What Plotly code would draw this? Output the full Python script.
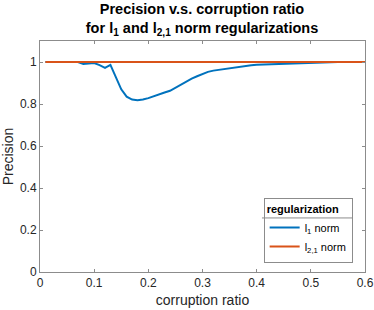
import plotly.graph_objects as go

ratio = [round(0.01 * i, 2) for i in range(1, 61)]
l1_precision = [
    1.0, 1.0, 1.0, 1.0, 1.0, 1.0, 1.0, 0.99, 0.993, 0.995,
    0.985, 0.972, 0.986, 0.93, 0.87, 0.835, 0.821, 0.818, 0.821, 0.828,
    0.838, 0.848, 0.855, 0.863, 0.878, 0.893, 0.908, 0.921, 0.932, 0.942,
    0.953, 0.959, 0.963, 0.968, 0.972, 0.976, 0.98, 0.983, 0.985, 0.987,
    0.988, 0.99, 0.991, 0.992, 0.993, 0.994, 0.995, 0.996, 0.997, 0.998,
    0.999, 0.999, 1.0, 1.0, 1.0, 1.0, 1.0, 1.0, 1.0, 1.0,
]
l21_precision = [
    1.0, 1.0, 1.0, 1.0, 1.0, 1.0, 1.0, 1.0, 1.0, 1.0,
    1.0, 1.0, 0.998, 0.997, 0.997, 0.998, 0.999, 1.0, 1.0, 1.0,
    1.0, 1.0, 1.0, 1.0, 1.0, 1.0, 1.0, 1.0, 1.0, 1.0,
    1.0, 1.0, 1.0, 1.0, 1.0, 1.0, 1.0, 1.0, 1.0, 1.0,
    1.0, 1.0, 1.0, 1.0, 1.0, 1.0, 1.0, 1.0, 1.0, 1.0,
    1.0, 1.0, 1.0, 1.0, 1.0, 1.0, 1.0, 1.0, 1.0, 1.0,
]
x_ticks = [0, 0.1, 0.2, 0.3, 0.4, 0.5, 0.6]
x_tick_labels = ["0", "0.1", "0.2", "0.3", "0.4", "0.5", "0.6"]
y_ticks = [0, 0.2, 0.4, 0.6, 0.8, 1]
y_tick_labels = ["0", "0.2", "0.4", "0.6", "0.8", "1"]

FONT = "Liberation Sans, Arial, Helvetica, sans-serif"

fig = go.Figure()
fig.add_trace(go.Scatter(x=ratio, y=l1_precision, mode="lines", name="l<sub>1</sub> norm",
                         line=dict(color="#0072BD", width=2)))
fig.add_trace(go.Scatter(x=ratio, y=l21_precision, mode="lines", name="l<sub>2,1</sub> norm",
                         line=dict(color="#D95319", width=2)))

axis_common = dict(showline=True, linecolor="#8c8c8c", linewidth=1, mirror="ticks",
                   ticks="inside", ticklen=3, tickcolor="#8c8c8c", showgrid=False,
                   zeroline=False, automargin=False, tickfont=dict(size=12, color="#262626"))

fig.update_layout(
    width=374, height=310,
    margin=dict(l=40, r=9, t=41, b=38),
    paper_bgcolor="white", plot_bgcolor="white",
    font=dict(family=FONT, color="#262626"),
    title=dict(text="<b>Precision v.s. corruption ratio<br>for l<sub>1</sub> and l<sub>2,1</sub> norm regularizations</b>",
               x=202 / 374, xanchor="center", y=0.954, yanchor="top",
               font=dict(size=14.5, color="#000000")),
    xaxis=dict(range=[0, 0.6], tickvals=x_ticks, ticktext=x_tick_labels,
               title=dict(text="corruption ratio", font=dict(size=14), standoff=5), **axis_common),
    yaxis=dict(range=[0, 1.1], tickvals=y_ticks, ticktext=y_tick_labels,
               title=dict(text="Precision", font=dict(size=14), standoff=10), **axis_common),
    legend=dict(title=dict(text="<b>regularization</b>", font=dict(size=11, color="#000000"), side="top"),
                x=0.962, xanchor="right", y=0.04, yanchor="bottom",
                bgcolor="rgba(0,0,0,0)", bordercolor="#8c8c8c", borderwidth=1,
                font=dict(size=11, color="#000000"), itemwidth=30, tracegroupgap=0),
    showlegend=True,
)

# white backing for the legend box, then the divider under the legend title
fig.add_shape(type="rect", xref="paper", yref="paper", x0=0.683, x1=0.962, y0=0.04, y1=0.31,
              fillcolor="white", line=dict(width=0), layer="above")
fig.add_shape(type="line", xref="paper", yref="paper", x0=0.683, x1=0.962, y0=0.234, y1=0.234,
              line=dict(color="#8c8c8c", width=1), layer="above")

fig.write_html("out.html", config={"displayModeBar": False},
               post_script="document.body.style.margin='0';")
